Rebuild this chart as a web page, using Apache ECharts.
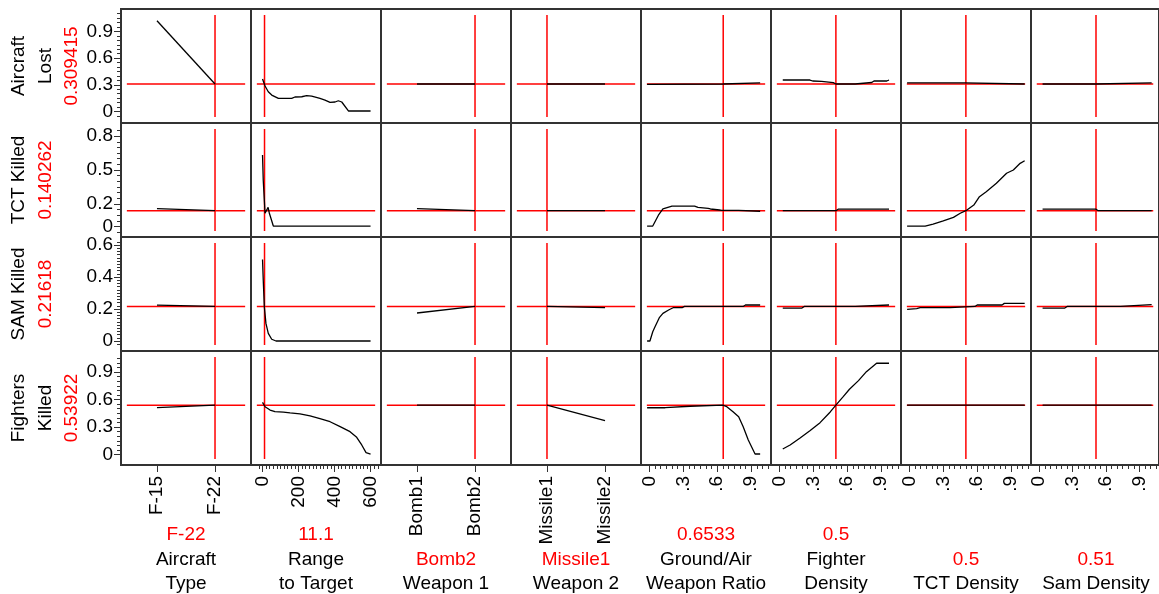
<!DOCTYPE html>
<html><head><meta charset="utf-8">
<script src="https://cdn.jsdelivr.net/npm/echarts@6/dist/echarts.min.js"></script>
<style>html,body{margin:0;padding:0;background:#fff}#c{width:1159px;height:594px}</style>
</head><body><div id="c"></div>
<script>
// ---------- categories ----------
const aircraftTypes = ['F-15', 'F-22'];
const weapon1Types = ['Bomb1', 'Bomb2'];
const weapon2Types = ['Missile1', 'Missile2'];

// ---------- responses (rows) ----------
const responseNames = [['Aircraft', 'Lost'], ['TCT Killed'], ['SAM Killed'], ['Fighters', 'Killed']];
const responseCurrent = [0.309415, 0.140262, 0.21618, 0.53922];
const responseCurrentText = ['0.309415', '0.140262', '0.21618', '0.53922'];

// ---------- factors (columns) ----------
const factorNames = [['Aircraft', 'Type'], ['Range', 'to Target'], ['Weapon 1'], ['Weapon 2'],
  ['Ground/Air', 'Weapon Ratio'], ['Fighter', 'Density'], ['TCT Density'], ['Sam Density']];
const factorCurrentText = ['F-22', '11.1', 'Bomb2', 'Missile1', '0.6533', '0.5', '0.5', '0.51'];
const factorCurrent = [1, 11.1, 1, 0, 0.6533, 0.5, 0.5, 0.51]; // category index for categorical factors

// ---------- tick labels ----------
const yTickLabels = [[0, 0.3, 0.6, 0.9], [0, 0.2, 0.5, 0.8], [0, 0.2, 0.4, 0.6], [0, 0.3, 0.6, 0.9]];
const rangeTickLabels = [0, 200, 400, 600];
const unitTickLabels = [0, 0.3, 0.6, 0.9];

// ---------- Aircraft Lost ----------
const lostAircraft = [1.02, 0.309];
const lostRange = [[0,0.365],[14,0.287],[32,0.222],[51,0.185],[88,0.148],[162,0.148],[180,0.163],[218,0.166],[245,0.178],[273,0.174],[319,0.148],[347,0.129],[375,0.103],[403,0.107],[421,0.121],[440,0.107],[477,0.006],[600,0.006]];
const lostWeapon1 = [0.309, 0.309];
const lostWeapon2 = [0.309, 0.309];
const lostGroundAir = [[-0.02,0.306],[0.65,0.309],[0.66,0.322],[0.98,0.322]];
const lostFighter = [[0.03,0.354],[0.27,0.354],[0.295,0.343],[0.374,0.339],[0.39,0.324],[0.477,0.324],[0.5,0.309],[0.67,0.309],[0.684,0.324],[0.817,0.326],[0.837,0.343],[0.95,0.343],[0.97,0.354]];
const lostTCT = [[-0.02,0.322],[0.49,0.322],[0.5,0.309],[1.02,0.309]];
const lostSam = [[0.03,0.309],[0.51,0.309],[0.52,0.322],[1.01,0.322]];

// ---------- TCT Killed ----------
const tctAircraft = [0.158, 0.140];
const tctRange = [[0,0.633],[4,0.41],[14,0.117],[21,0.108],[31,0.17],[38,0.117],[60,0.004],[600,0.004]];
const tctWeapon1 = [0.158, 0.140];
const tctWeapon2 = [0.140, 0.140];
const tctGroundAir = [[-0.02,0.004],[0.03,0.004],[0.08,0.10],[0.12,0.155],[0.2,0.181],[0.4,0.181],[0.43,0.17],[0.52,0.161],[0.54,0.155],[0.62,0.146],[0.64,0.143],[0.79,0.143],[0.8,0.135],[0.98,0.135]];
const tctFighter = [[0.03,0.140],[0.5,0.140],[0.52,0.153],[0.97,0.153]];
const tctTCT = [[-0.02,0.004],[0.14,0.004],[0.21,0.022],[0.3,0.049],[0.39,0.081],[0.45,0.117],[0.5,0.14],[0.57,0.19],[0.62,0.264],[0.68,0.308],[0.77,0.382],[0.86,0.471],[0.92,0.5],[0.98,0.559],[1.02,0.582]];
const tctSam = [[0.03,0.153],[0.51,0.153],[0.53,0.140],[1.01,0.140]];

// ---------- SAM Killed ----------
const samAircraft = [0.224, 0.216];
const samRange = [[0,0.51],[4,0.381],[10,0.214],[19,0.11],[32,0.048],[51,0.011],[75,0.0],[600,0.0]];
const samWeapon1 = [0.175, 0.216];
const samWeapon2 = [0.216, 0.208];
const samGroundAir = [[-0.02,0.0],[0.005,0.0],[0.03,0.058],[0.05,0.089],[0.09,0.148],[0.12,0.173],[0.17,0.194],[0.21,0.208],[0.29,0.208],[0.31,0.216],[0.83,0.216],[0.85,0.225],[0.98,0.225]];
const samFighter = [[0.03,0.206],[0.2,0.206],[0.22,0.216],[0.67,0.216],[0.68,0.225],[0.97,0.225]];
const samTCT = [[-0.02,0.198],[0.065,0.202],[0.095,0.208],[0.36,0.208],[0.375,0.216],[0.58,0.216],[0.6,0.225],[0.82,0.225],[0.84,0.235],[1.02,0.235]];
const samSam = [[0.03,0.206],[0.23,0.206],[0.25,0.216],[0.73,0.216],[0.74,0.227],[1.01,0.227]];

// ---------- Fighters Killed ----------
const ftrAircraft = [0.511, 0.539];
const ftrRange = [[0,0.57],[14,0.522],[42,0.486],[69,0.468],[116,0.464],[153,0.454],[208,0.443],[264,0.421],[319,0.391],[375,0.358],[431,0.304],[486,0.249],[523,0.188],[551,0.104],[575,0.02],[600,0.005]];
const ftrWeapon1 = [0.539, 0.539];
const ftrWeapon2 = [0.539, 0.37];
const ftrGroundAir = [[-0.02,0.511],[0.14,0.511],[0.15,0.527],[0.36,0.527],[0.375,0.539],[0.65,0.539],[0.685,0.522],[0.74,0.468],[0.79,0.413],[0.83,0.304],[0.875,0.158],[0.935,0.005],[0.98,0.005]];
const ftrFighter = [[0.03,0.06],[0.095,0.104],[0.18,0.177],[0.27,0.26],[0.36,0.348],[0.45,0.465],[0.5,0.539],[0.565,0.632],[0.62,0.713],[0.7,0.807],[0.77,0.905],[0.86,0.997],[0.97,0.997]];
const ftrTCT = [[-0.02,0.539],[1.02,0.539]];
const ftrSam = [[0.03,0.539],[1.01,0.539]];

const curves = [
  [lostAircraft, lostRange, lostWeapon1, lostWeapon2, lostGroundAir, lostFighter, lostTCT, lostSam],
  [tctAircraft, tctRange, tctWeapon1, tctWeapon2, tctGroundAir, tctFighter, tctTCT, tctSam],
  [samAircraft, samRange, samWeapon1, samWeapon2, samGroundAir, samFighter, samTCT, samSam],
  [ftrAircraft, ftrRange, ftrWeapon1, ftrWeapon2, ftrGroundAir, ftrFighter, ftrTCT, ftrSam]
];

// ---------- layout / style ----------
const LEFT0 = 121, COLW = 130, ROWT = [9, 123, 237, 351], ROWH = 114;
const yRange = [[-0.129, 1.152], [-0.093, 0.916], [-0.0625, 0.65], [-0.115, 1.131]];
const yMinor = [[-0.05, 1.1, 0.05], [-0.05, 0.85, 0.05], [-0.02, 0.62, 0.02], [0, 1.05, 0.05]];
const xKind = ['cat', 'range', 'cat', 'cat', 'unit', 'unit', 'unit', 'unit'];
const xRangeByKind = { cat: [-0.62, 1.62], range: [-64, 658], unit: [-0.074, 1.076] };
const xMinorByKind = { range: [-20, 640, 20], unit: [0, 1.05, 0.05] };
const catsByCol = { 0: aircraftTypes, 2: weapon1Types, 3: weapon2Types };
const FONT = '"Liberation Sans", Arial, Helvetica, sans-serif';
const FS = 19;
const RED = '#ff0000';
const BORDER = '#333';

function steps(a, b, s) { const out = []; for (let v = a; v <= b + s / 10; v += s) out.push(Math.round(v * 1000) / 1000); return out; }
function unitFmt(v) { return v === 0 ? '0' : String(v).replace(/^0\./, '.'); }

const grids = [], xAxes = [], yAxes = [], series = [], graphics = [];
const noLine = { show: false, onZero: false };

for (let r = 0; r < 4; r++) {
  for (let c = 0; c < 8; c++) {
    const gi = grids.length;
    grids.push({ left: LEFT0 + c * COLW, top: ROWT[r], width: COLW, height: ROWH, show: true,
      borderColor: BORDER, borderWidth: 2, backgroundColor: 'transparent', containLabel: false });
    const kind = xKind[c];
    const [xmin, xmax] = xRangeByKind[kind];
    const [ymin, ymax] = yRange[r];
    const bottom = r === 3, leftCol = c === 0;

    // main x axis
    const xi = xAxes.length;
    const xAx = { type: 'value', gridIndex: gi, position: 'bottom', min: xmin, max: xmax,
      splitLine: { show: false }, axisLine: noLine,
      axisTick: { show: false }, axisLabel: { show: false } };
    if (bottom) {
      let majors, fmt;
      if (kind === 'cat') { majors = [0, 1]; fmt = v => catsByCol[c][Math.round(v)]; }
      else if (kind === 'range') { majors = rangeTickLabels; fmt = v => String(v); }
      else { majors = unitTickLabels; fmt = unitFmt; }
      xAx.axisTick = { show: true, inside: false, length: 7, customValues: majors, lineStyle: { color: BORDER, width: 1 } };
      xAx.axisLabel = { show: true, customValues: majors, rotate: 90, margin: 11, formatter: fmt,
        color: '#000', fontSize: FS, fontFamily: FONT };
    }
    xAxes.push(xAx);
    if (bottom && kind !== 'cat') {
      const mm = xMinorByKind[kind];
      xAxes.push({ type: 'value', gridIndex: gi, position: 'bottom', min: xmin, max: xmax,
        splitLine: { show: false }, axisLine: noLine, axisLabel: { show: false },
        axisTick: { show: true, length: 4, customValues: steps(mm[0], mm[1], mm[2]), lineStyle: { color: BORDER, width: 1 } } });
    }

    // main y axis
    const yi = yAxes.length;
    const yAx = { type: 'value', gridIndex: gi, position: 'left', min: ymin, max: ymax,
      splitLine: { show: false }, axisLine: noLine,
      axisTick: { show: false }, axisLabel: { show: false } };
    if (leftCol) {
      yAx.axisTick = { show: true, length: 7, customValues: yTickLabels[r], lineStyle: { color: BORDER, width: 1 } };
      yAx.axisLabel = { show: true, customValues: yTickLabels[r], margin: 8, formatter: v => String(v),
        color: '#000', fontSize: FS, fontFamily: FONT };
    }
    yAxes.push(yAx);
    if (leftCol) {
      const mm = yMinor[r];
      yAxes.push({ type: 'value', gridIndex: gi, position: 'left', min: ymin, max: ymax,
        splitLine: { show: false }, axisLine: noLine, axisLabel: { show: false },
        axisTick: { show: true, length: 4, customValues: steps(mm[0], mm[1], mm[2]), lineStyle: { color: BORDER, width: 1 } } });
    }

    // crosshair
    const padX = 0.045 * (xmax - xmin), padY = 0.053 * (ymax - ymin);
    const xv = factorCurrent[c], yv = responseCurrent[r];
    const redStyle = { color: RED, width: 1.5 };
    series.push({ type: 'line', xAxisIndex: xi, yAxisIndex: yi, data: [[xmin + padX, yv], [xmax - padX, yv]],
      symbol: 'none', lineStyle: redStyle, silent: true, animation: false, z: 2 });
    series.push({ type: 'line', xAxisIndex: xi, yAxisIndex: yi, data: [[xv, ymin + padY], [xv, ymax - padY]],
      symbol: 'none', lineStyle: redStyle, silent: true, animation: false, z: 2 });

    // profile curve
    const raw = curves[r][c];
    const data = kind === 'cat' ? raw.map((v, i) => [i, v]) : raw;
    series.push({ type: 'line', xAxisIndex: xi, yAxisIndex: yi, data, symbol: 'none',
      lineStyle: { color: '#000', width: 1.3 }, silent: true, animation: false, z: 3 });
  }
}

// left titles
for (let r = 0; r < 4; r++) {
  const lines = responseNames[r].map(t => ({ t, col: '#000' })).concat([{ t: responseCurrentText[r], col: RED }]);
  const cy = ROWT[r] + ROWH / 2;
  lines.forEach((ln, i) => {
    graphics.push({ type: 'text', x: 19 + 26.5 * i, y: cy, rotation: Math.PI / 2, silent: true,
      style: { text: ln.t, fill: ln.col, font: FS + 'px ' + FONT, align: 'center', verticalAlign: 'middle' } });
  });
}
// bottom titles
for (let c = 0; c < 8; c++) {
  const lines = [{ t: factorCurrentText[c], col: RED }].concat(factorNames[c].map(t => ({ t, col: '#000' })));
  const cx = LEFT0 + c * COLW + COLW / 2;
  const n = lines.length;
  lines.forEach((ln, i) => {
    graphics.push({ type: 'text', x: cx, y: 584 - 24.5 * (n - 1 - i), silent: true,
      style: { text: ln.t, fill: ln.col, font: FS + 'px ' + FONT, align: 'center', verticalAlign: 'middle' } });
  });
}

const chart = echarts.init(document.getElementById('c'), null, { renderer: 'canvas' });
chart.setOption({ animation: false, backgroundColor: '#fff', grid: grids, xAxis: xAxes, yAxis: yAxes, series, graphic: graphics });
</script>
</body></html>
